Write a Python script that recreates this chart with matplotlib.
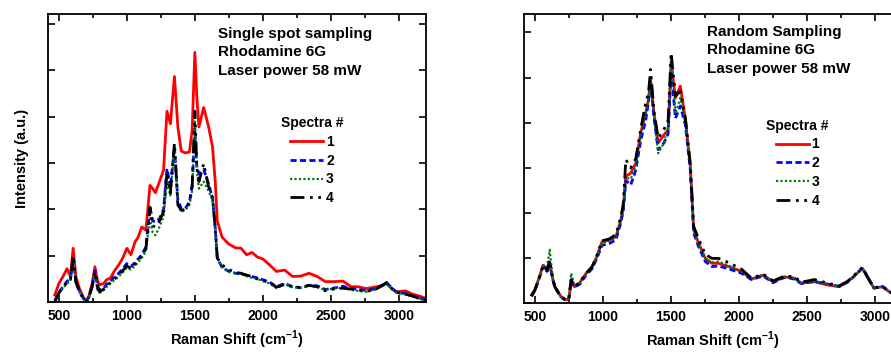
import matplotlib
matplotlib.use("Agg")
import matplotlib.pyplot as plt
from matplotlib.ticker import MultipleLocator

plt.rcParams['font.family'] = ['Liberation Sans', 'DejaVu Sans']
plt.rcParams['font.weight'] = 'bold'
plt.rcParams['mathtext.fontset'] = 'custom'
plt.rcParams['mathtext.rm'] = 'Liberation Sans'
plt.rcParams['mathtext.bf'] = 'Liberation Sans:bold'

# ---------------- data ----------------
xL = [470, 500, 530, 560, 585, 605, 625, 650, 680, 700, 720, 745, 765, 785, 800, 830, 850, 880,
      910, 940, 970, 1000, 1030, 1060, 1080, 1110, 1140, 1170, 1190, 1210, 1240, 1270, 1295,
      1320, 1350, 1375, 1400, 1430, 1460, 1480, 1500, 1515, 1530, 1565, 1600, 1630, 1650, 1665,
      1700, 1750, 1800, 1840, 1880, 1920, 1960, 2000, 2050, 2100, 2160, 2220, 2280, 2340, 2400,
      2460, 2520, 2590, 2650, 2700, 2760, 2820, 2870, 2910, 2950, 2980, 3050, 3100, 3150, 3200]

left_s1 = [0.15, 0.40, 0.55, 0.72, 0.55, 1.16, 0.55, 0.30, 0.10, 0.02, 0.12, 0.40, 0.76, 0.45, 0.37,
           0.40, 0.48, 0.52, 0.68, 0.80, 0.95, 1.16, 1.02, 1.30, 1.38, 1.62, 1.55, 2.52, 2.45, 2.36,
           2.60, 2.85, 4.12, 3.85, 4.87, 3.78, 3.26, 3.22, 3.24, 3.70, 5.39, 4.40, 3.78, 4.20, 3.80,
           3.35, 2.60, 1.75, 1.40, 1.25, 1.17, 1.16, 1.02, 1.07, 0.97, 0.93, 0.80, 0.66, 0.69, 0.55,
           0.56, 0.62, 0.55, 0.44, 0.44, 0.45, 0.33, 0.33, 0.29, 0.32, 0.35, 0.40, 0.28, 0.22, 0.24,
           0.17, 0.13, 0.08]
left_s2 = [0.03, 0.20, 0.33, 0.45, 0.50, 0.94, 0.45, 0.25, 0.08, 0.00, 0.10, 0.35, 0.67, 0.35, 0.26,
           0.30, 0.38, 0.45, 0.55, 0.62, 0.72, 0.83, 0.77, 0.85, 0.92, 1.02, 1.19, 2.05, 1.75, 1.73,
           1.80, 2.00, 2.88, 2.48, 3.35, 2.20, 2.02, 2.02, 2.16, 2.50, 3.74, 2.90, 2.77, 2.86, 2.56,
           2.25, 1.60, 0.95, 0.75, 0.66, 0.62, 0.60, 0.58, 0.55, 0.52, 0.48, 0.43, 0.33, 0.40, 0.33,
           0.31, 0.36, 0.35, 0.27, 0.30, 0.34, 0.29, 0.27, 0.25, 0.28, 0.35, 0.42, 0.30, 0.22, 0.18,
           0.13, 0.09, 0.04]
left_s3 = [0.00, 0.18, 0.30, 0.40, 0.45, 0.90, 0.42, 0.22, 0.06, 0.00, 0.08, 0.30, 0.62, 0.25, 0.20,
           0.26, 0.32, 0.40, 0.48, 0.55, 0.64, 0.74, 0.70, 0.78, 0.85, 0.95, 1.10, 1.80, 1.50, 1.44,
           1.62, 1.85, 2.60, 2.30, 3.35, 2.10, 1.95, 1.98, 2.10, 2.40, 3.90, 2.80, 2.45, 2.60, 2.40,
           2.20, 1.55, 0.95, 0.75, 0.65, 0.62, 0.60, 0.56, 0.52, 0.50, 0.45, 0.40, 0.30, 0.38, 0.32,
           0.30, 0.35, 0.32, 0.26, 0.29, 0.30, 0.26, 0.24, 0.22, 0.26, 0.33, 0.40, 0.28, 0.20, 0.16,
           0.12, 0.07, 0.02]
left_s4 = [0.00, 0.20, 0.32, 0.42, 0.48, 1.00, 0.43, 0.23, 0.07, 0.01, 0.10, 0.33, 0.65, 0.30, 0.22,
           0.28, 0.35, 0.42, 0.50, 0.58, 0.68, 0.78, 0.72, 0.82, 0.88, 1.00, 1.15, 2.05, 1.65, 1.62,
           1.75, 1.95, 2.80, 2.35, 3.43, 2.10, 1.98, 2.00, 2.15, 2.50, 4.12, 2.90, 2.60, 2.99, 2.50,
           2.25, 1.60, 0.95, 0.80, 0.70, 0.64, 0.62, 0.58, 0.55, 0.50, 0.47, 0.42, 0.32, 0.38, 0.33,
           0.31, 0.36, 0.33, 0.24, 0.28, 0.30, 0.28, 0.26, 0.23, 0.26, 0.34, 0.42, 0.29, 0.21, 0.17,
           0.13, 0.08, 0.03]

xR = [475, 500, 530, 561, 590, 609, 630, 646, 690, 731, 750, 767, 792, 830, 877, 920, 950, 994,
      1047, 1096, 1132, 1150, 1169, 1205, 1242, 1278, 1315, 1335, 1351, 1376, 1407, 1449, 1480,
      1502, 1534, 1570, 1607, 1643, 1668, 1704, 1753, 1801, 1850, 1923, 2020, 2093, 2179, 2252,
      2337, 2410, 2458, 2556, 2653, 2738, 2799, 2850, 2909, 2950, 2994, 3055, 3115, 3200]

right_s1 = [0.18, 0.30, 0.55, 0.84, 0.73, 0.84, 0.55, 0.36, 0.15, 0.07, 0.10, 0.47, 0.36, 0.45, 0.66,
            0.80, 0.99, 1.36, 1.40, 1.47, 1.84, 2.10, 2.81, 2.88, 3.10, 3.77, 4.21, 4.50, 4.96, 4.21,
            3.55, 3.73, 3.84, 5.33, 4.55, 4.81, 4.07, 3.03, 1.62, 1.33, 0.99, 0.88, 0.88, 0.81, 0.70,
            0.53, 0.62, 0.47, 0.58, 0.55, 0.44, 0.47, 0.40, 0.36, 0.47, 0.60, 0.77, 0.55, 0.33, 0.36,
            0.23, 0.12]
right_s2 = [0.15, 0.28, 0.52, 0.82, 0.70, 0.90, 0.55, 0.36, 0.14, 0.05, 0.10, 0.50, 0.35, 0.42, 0.62,
            0.76, 0.95, 1.28, 1.32, 1.40, 1.78, 2.05, 2.72, 2.62, 2.95, 3.60, 4.05, 4.45, 4.90, 4.10,
            3.40, 3.55, 3.75, 5.15, 4.10, 4.37, 3.95, 2.95, 1.55, 1.25, 0.92, 0.81, 0.82, 0.76, 0.66,
            0.52, 0.60, 0.45, 0.57, 0.53, 0.43, 0.48, 0.42, 0.37, 0.46, 0.60, 0.78, 0.55, 0.33, 0.37,
            0.24, 0.13]
right_s3 = [0.17, 0.30, 0.54, 0.83, 0.80, 1.18, 0.58, 0.38, 0.14, 0.06, 0.10, 0.66, 0.38, 0.45, 0.64,
            0.79, 0.97, 1.33, 1.38, 1.45, 1.82, 2.10, 2.78, 2.75, 3.05, 3.70, 4.20, 4.55, 4.90, 4.15,
            3.32, 3.55, 3.90, 5.48, 4.20, 4.55, 4.00, 3.00, 1.60, 1.30, 0.99, 0.90, 0.92, 0.83, 0.70,
            0.54, 0.62, 0.47, 0.58, 0.55, 0.44, 0.48, 0.41, 0.37, 0.47, 0.60, 0.78, 0.55, 0.33, 0.36,
            0.24, 0.12]
right_s4 = [0.15, 0.28, 0.55, 0.84, 0.72, 0.95, 0.56, 0.37, 0.14, 0.05, 0.12, 0.52, 0.37, 0.46, 0.66,
            0.80, 1.00, 1.38, 1.42, 1.52, 1.90, 2.20, 3.18, 3.00, 3.20, 3.85, 4.44, 4.65, 5.18, 4.25,
            3.66, 3.85, 4.05, 5.55, 4.59, 4.70, 4.10, 3.10, 1.70, 1.42, 1.08, 0.99, 0.99, 0.90, 0.75,
            0.55, 0.64, 0.49, 0.60, 0.58, 0.46, 0.52, 0.44, 0.38, 0.48, 0.62, 0.79, 0.56, 0.34, 0.37,
            0.24, 0.13]

labels = ['1', '2', '3', '4']
colors = ['#ff0000', '#0000ff', '#008000', '#000000']
styles = ['-', (0, (2.2, 1.2)), (0, (1, 1)), (0, (5, 2, 1, 2, 1, 2))]
widths = [2.0, 2.0, 1.6, 2.0]

fig = plt.figure(figsize=(8.91, 3.53), dpi=100)
axL = fig.add_axes([48 / 891, 51 / 353, 378 / 891, 288 / 353])
axR = fig.add_axes([524 / 891, 50 / 353, 378 / 891, 289 / 353])


def style_axis(ax, ylim):
    ax.set_xlim(420, 3200)
    ax.set_ylim(0, ylim)
    ax.xaxis.set_major_locator(MultipleLocator(500))
    ax.xaxis.set_minor_locator(MultipleLocator(250))
    ax.yaxis.set_major_locator(MultipleLocator(1))
    ax.tick_params(which='both', direction='in', top=True, right=True, width=1.2)
    ax.tick_params(which='major', length=5)
    ax.tick_params(which='minor', length=3)
    ax.tick_params(axis='x', labelsize=10, pad=5)
    ax.set_yticklabels([])
    for lab in ax.get_xticklabels():
        lab.set_fontweight('bold')
    for sp in ax.spines.values():
        sp.set_linewidth(1.3)
    ax.set_xlabel(r'Raman Shift (cm$^{\mathbf{-1}}$)', fontsize=10.5, fontweight='bold', labelpad=4)


for ys, lab, c, ls, lw in zip([left_s1, left_s2, left_s3, left_s4], labels, colors, styles, widths):
    axL.plot(xL, ys, color=c, linestyle=ls, linewidth=lw, label=lab)
for ys, lab, c, ls, lw in zip([right_s1, right_s2, right_s3, right_s4], labels, colors, styles, widths):
    axR.plot(xR, ys, color=c, linestyle=ls, linewidth=lw, label=lab)

style_axis(axL, 6.22)
style_axis(axR, 6.41)
axL.set_ylabel('Intensity (a.u.)', fontsize=10.5, fontweight='bold', labelpad=10)

axL.text(0.45, 0.955, 'Single spot sampling\nRhodamine 6G\nLaser power 58 mW',
         transform=axL.transAxes, ha='left', va='top', fontsize=11, fontweight='bold', linespacing=1.4)
axR.text(0.484, 0.962, 'Random Sampling\nRhodamine 6G\nLaser power 58 mW',
         transform=axR.transAxes, ha='left', va='top', fontsize=11, fontweight='bold', linespacing=1.4)

for ax, anchor in [(axL, (0.59, 0.68)), (axR, (0.615, 0.672))]:
    leg = ax.legend(loc='upper left', bbox_to_anchor=anchor, frameon=False, title='Spectra #',
                    prop={'weight': 'bold', 'size': 10}, handlelength=2.4, handletextpad=0.2,
                    labelspacing=0.35, borderpad=0.2, alignment='center')
    leg.get_title().set_fontweight('bold')
    leg.get_title().set_fontsize(10)

fig.savefig('out.png', dpi=100)
